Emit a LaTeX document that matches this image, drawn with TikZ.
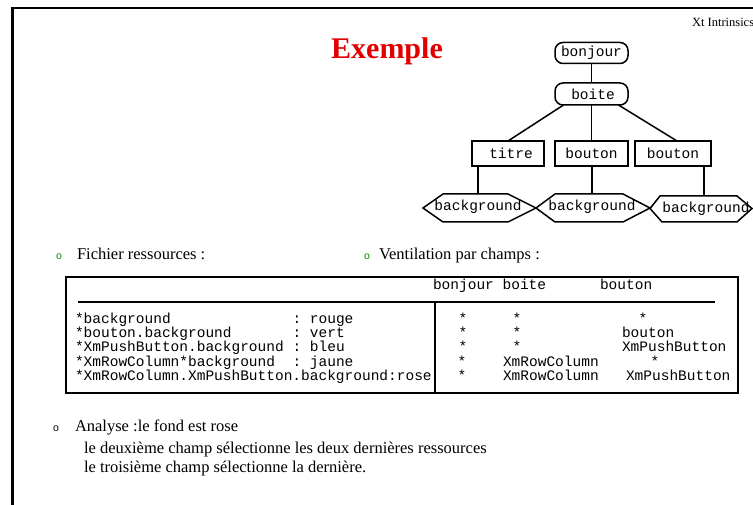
\documentclass[tikz,border=0pt]{standalone}
\usepackage{fontspec}
\setmainfont{Liberation Serif}
\setmonofont{Liberation Mono}
\newfontfamily\bulletfont{Liberation Sans}
\definecolor{titlered}{RGB}{225,0,0}
\definecolor{bulletgreen}{RGB}{0,140,0}
\begin{document}
\begin{tikzpicture}[x=1pt,y=-1pt,
  every node/.style={inner sep=0pt, outer sep=0pt},
  tt/.style={font=\ttfamily\fontsize{14.5}{14.5}\selectfont},
  link/.style={line width=1.5pt},
  pill/.style={tt, draw, line width=1.5pt, rounded corners=8pt, minimum width=73pt, minimum height=21pt},
  rbox/.style={tt, draw, line width=1.5pt, minimum height=25pt},
  hexbox/.style={line width=1.5pt, line join=miter},
  body/.style={font=\fontsize{16.5}{19}\selectfont, anchor=base west},
  cell/.style={tt, anchor=base west},
  star/.style={tt, anchor=base},
  bul/.style={font=\bulletfont\fontsize{10.5}{10.5}\selectfont, anchor=base},
  rule/.style={line width=2.5pt},
]
\useasboundingbox (0,0) rectangle (753,505);
\clip (0,0) rectangle (753,505);

% outer frame
\draw[rule] (12.5,510) -- (12.5,8) -- (760,8);
\node[font=\fontsize{12.5}{12.5}\selectfont, anchor=base west] (hdr) at (692,27) {Xt Intrinsics};

% title
\node[font=\bfseries\fontsize{30}{30}\selectfont, text=titlered, anchor=base] (title) at (387,59) {Exemple};

% tree
\node[pill] (bonjour) at (591.5,53) {bonjour};
\node[pill, minimum height=22pt] (boite) at (591.5,94) {\hspace{3pt}boite};
\node[rbox, minimum width=72pt] (titre) at (508,153.5) {\hspace{6pt}titre};
\node[rbox, minimum width=73pt] (bouton1) at (591.5,153.5) {bouton};
\node[rbox, minimum width=76pt] (bouton2) at (673,153.5) {bouton};

\draw[hexbox] (423,208) -- (443,194) -- (508,194) -- (536,208) -- (508,222) -- (443,222) -- cycle;
\draw[hexbox] (536,208) -- (555,194) -- (623,194) -- (650,208) -- (623,222) -- (555,222) -- cycle;
\draw[hexbox] (650,208.5) -- (660,196) -- (737,196) -- (752,208.5) -- (737,222) -- (662,222) -- cycle;
\coordinate (h1top) at (478,194);
\coordinate (h2top) at (592,194);
\coordinate (h3top) at (704,196);
\node[tt] (bg1) at (478,207) {background};
\node[tt] (bg2) at (592,207) {background};
\node[tt] (bg3) at (706,208.5) {background};

\draw[link] (bonjour.south) -- (boite.north);
\draw[link] ([xshift=-28pt]boite.south) -- (titre.north);
\draw[link] (boite.south) -- (bouton1.north);
\draw[link] ([xshift=27pt]boite.south) -- ([xshift=4pt]bouton2.north);
\draw[link] (titre.south -| h1top) -- (h1top);
\draw[link] (bouton1.south -| h2top) -- (h2top);
\draw[link] (bouton2.south -| h3top) -- (h3top);

% bullets
\node[bul, text=bulletgreen] (b1) at (59,260) {o};
\node[body] (fich) at (77,260) {Fichier ressources :};
\node[bul, text=bulletgreen] (b2) at (367,260) {o};
\node[body] (vent) at (379,260) {Ventilation par champs :};

% table
\node[draw, line width=2.5pt, minimum width=672pt, minimum height=116pt, anchor=north west] (tab) at (66,277) {};
\coordinate (sepL) at (78,302);
\coordinate (sepR) at (715,302);
\coordinate (sepV) at (435,302);
\draw[rule] (sepL) -- (sepR);
\draw[rule] (sepV) -- (sepV |- tab.south);

\node[cell] (h1) at (433,290) {bonjour boite};
\node[cell] (h2) at (600,290) {bouton};

\node[cell] (r1) at (75,323.5) {*background};
\node[cell] (c1) at (292.5,323.5) {: rouge};
\node[cell] (r2) at (75,337.7) {*bouton.background};
\node[cell] (c2) at (292.5,337.7) {: vert};
\node[cell] (r3) at (75,352) {*XmPushButton.background};
\node[cell] (c3) at (292.5,352) {: bleu};
\node[cell] (r4) at (75,366.2) {*XmRowColumn*background};
\node[cell] (c4) at (292.5,366.2) {: jaune};
\node[cell] (r5) at (75,380.4) {*XmRowColumn.XmPushButton.background:rose};

\node[star] (s11) at (463,323.5) {*};
\node[star] (s12) at (517,323.5) {*};
\node[star] (s13) at (643,323.5) {*};
\node[star] (s21) at (463,337.7) {*};
\node[star] (s22) at (517,337.7) {*};
\node[cell] (s23) at (622,337.7) {bouton};
\node[star] (s31) at (463,352) {*};
\node[star] (s32) at (517,352) {*};
\node[cell] (s33) at (622,352) {XmPushButton};
\node[star] (s41) at (462,366.2) {*};
\node[cell] (s42) at (503,366.2) {XmRowColumn};
\node[star] (s43) at (655,366.2) {*};
\node[star] (s51) at (462,380.4) {*};
\node[cell] (s52) at (503,380.4) {XmRowColumn};
\node[cell] (s53) at (626,380.4) {XmPushButton};

% analysis
\node[bul] (b3) at (56,431) {o};
\node[body] (ana) at (75,431) {Analyse :le fond est rose};
\node[body] (l2) at (84,453) {le deuxième champ sélectionne les deux dernières ressources};
\node[body] (l3) at (84,472) {le troisième champ sélectionne la dernière.};
\end{tikzpicture}
\end{document}
